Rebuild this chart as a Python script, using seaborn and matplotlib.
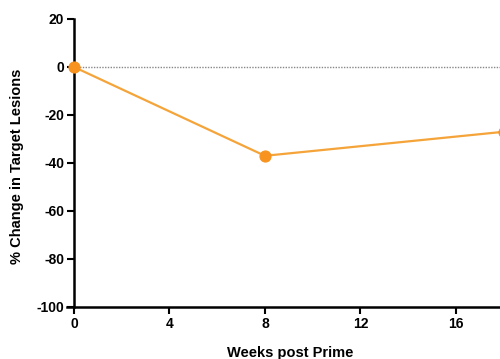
import matplotlib
matplotlib.use("Agg")
import matplotlib.pyplot as plt
import seaborn as sns
import pandas as pd

weeks = [0, 8, 18]
pct_change = [0, -37, -27]
x_ticks = [0, 4, 8, 12, 16]
y_ticks = [20, 0, -20, -40, -60, -80, -100]

sns.set_style("ticks")
plt.rcParams['font.family'] = ['Liberation Sans', 'DejaVu Sans']
plt.rcParams['font.weight'] = 'bold'
plt.rcParams['text.color'] = 'black'
plt.rcParams['axes.labelcolor'] = 'black'
plt.rcParams['xtick.color'] = 'black'
plt.rcParams['ytick.color'] = 'black'

df = pd.DataFrame({"Weeks": weeks, "Change": pct_change})

fig = plt.figure(figsize=(5.0, 3.59), dpi=100)
ax = fig.add_axes([74/500, 1 - 307/359, 1 - 74/500, (307 - 19)/359])

ax.axhline(0, color="#888888", lw=1.0, ls=(0, (1, 1)), zorder=1)
sns.lineplot(data=df, x="Weeks", y="Change", ax=ax, color="#F5A43A", lw=1.6,
             marker="o", markersize=8, markerfacecolor="#F7931E",
             markeredgecolor="#F7931E", clip_on=False, zorder=3)

ax.set_xlim(0, 17.85)
ax.set_ylim(-100, 20)
ax.set_xticks(x_ticks)
ax.set_yticks(y_ticks)
ax.set_xticklabels([str(t) for t in x_ticks], fontsize=10, fontweight='bold')
ax.set_yticklabels([str(t) for t in y_ticks], fontsize=10, fontweight='bold')
ax.set_xlabel("Weeks post Prime", fontsize=10.5, fontweight='bold')
ax.set_ylabel("% Change in Target Lesions", fontsize=10.5, fontweight='bold')
ax.xaxis.set_label_coords((290 - 74) / 426, -0.135)
ax.yaxis.set_label_coords(-0.117, 0.49)

for s in ["top", "right"]:
    ax.spines[s].set_visible(False)
for s in ["left", "bottom"]:
    ax.spines[s].set_linewidth(1.8)
    ax.spines[s].set_color("black")
ax.spines["bottom"].set_bounds(-0.3, 17.85)
ax.tick_params(axis="both", direction="out", length=5, width=1.5, colors="black", pad=2)

fig.savefig("out.png", dpi=100)
